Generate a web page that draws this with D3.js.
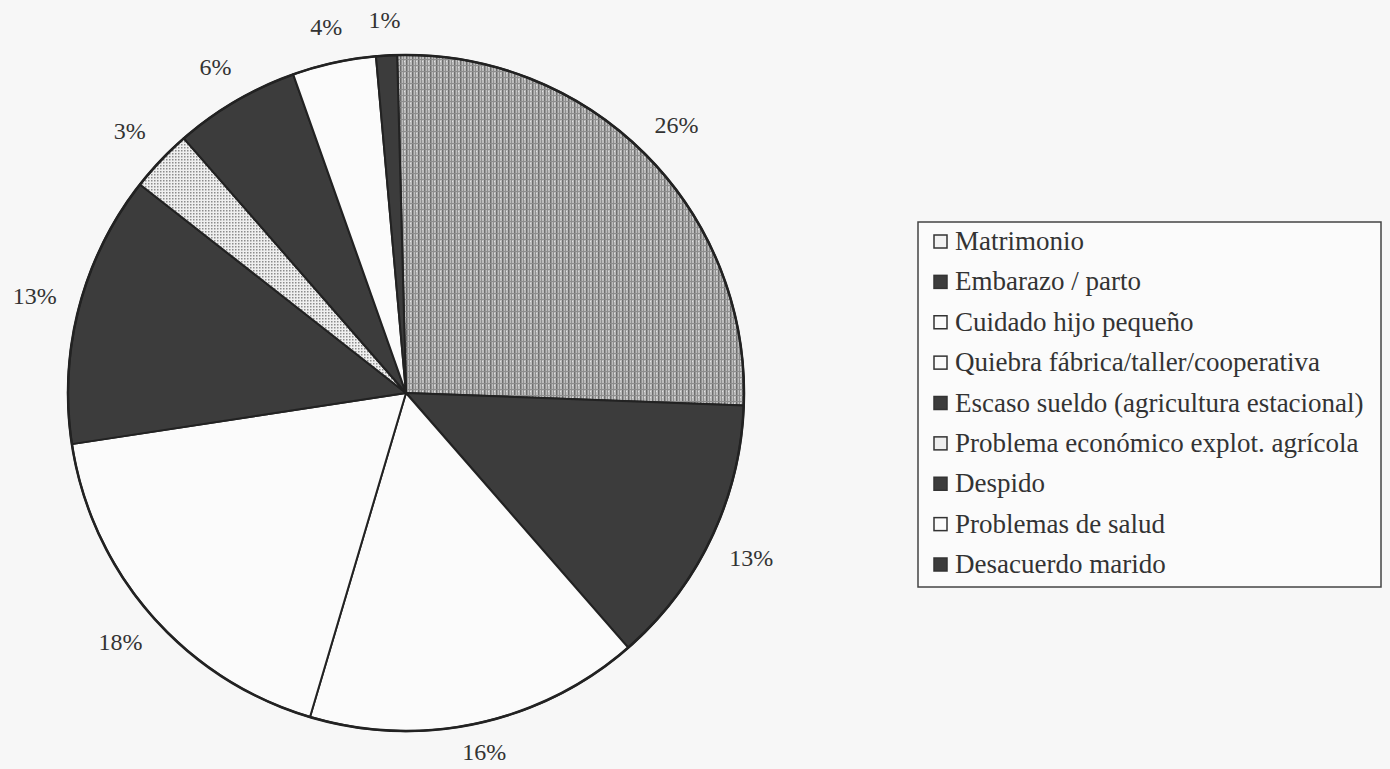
<!DOCTYPE html>
<html>
<head>
<meta charset="utf-8">
<script src="https://cdn.jsdelivr.net/npm/d3@7"></script>
<style>
  html, body { margin: 0; padding: 0; background: #f7f7f7; }
  svg { display: block; }
</style>
</head>
<body>
<div id="chart"></div>
<script>
// ---- data ----
const categories = [
  "Matrimonio",
  "Embarazo / parto",
  "Cuidado hijo pequeño",
  "Quiebra fábrica/taller/cooperativa",
  "Escaso sueldo (agricultura estacional)",
  "Problema económico explot. agrícola",
  "Despido",
  "Problemas de salud",
  "Desacuerdo marido"
];
const values = [26, 13, 16, 18, 13, 3, 6, 4, 1];
const valueLabels = ["26%", "13%", "16%", "18%", "13%", "3%", "6%", "4%", "1%"];
const sliceFills = ["url(#patGrey)", "#3c3c3c", "#fbfbfb", "#fbfbfb", "#3c3c3c", "url(#patDots)", "#3c3c3c", "#fbfbfb", "#3c3c3c"];
const swatchFills = ["#f2f2f2", "#3c3c3c", "#fbfbfb", "#fbfbfb", "#3c3c3c", "#eeeeee", "#3c3c3c", "#fbfbfb", "#3c3c3c"];

// ---- layout ----
const W = 1390, H = 769;
const cx = 406, cy = 393, R = 338;
const offset = -1.5 * Math.PI / 180;

const svg = d3.select("#chart").append("svg")
  .attr("width", W).attr("height", H);

svg.append("rect").attr("width", W).attr("height", H).attr("fill", "#f7f7f7");

const defs = svg.append("defs");
// grey textured fill (Matrimonio)
const pg = defs.append("pattern").attr("id", "patGrey")
  .attr("patternUnits", "userSpaceOnUse").attr("width", 6).attr("height", 6);
pg.append("rect").attr("width", 6).attr("height", 6).attr("fill", "#bcbcbc");
pg.append("rect").attr("x", 0).attr("y", 0).attr("width", 1.5).attr("height", 6).attr("fill", "#6e6e6e");
pg.append("rect").attr("x", 3).attr("y", 0).attr("width", 1).attr("height", 6).attr("fill", "#8e8e8e");
pg.append("rect").attr("x", 0).attr("y", 2).attr("width", 6).attr("height", 1).attr("fill", "#8e8e8e");
pg.append("rect").attr("x", 4).attr("y", 4).attr("width", 1).attr("height", 1).attr("fill", "#e2e2e2");
// dotted fill (Problema económico)
const pd = defs.append("pattern").attr("id", "patDots")
  .attr("patternUnits", "userSpaceOnUse").attr("width", 3).attr("height", 3);
pd.append("rect").attr("width", 3).attr("height", 3).attr("fill", "#efefef");
pd.append("rect").attr("x", 0).attr("y", 0).attr("width", 1.5).attr("height", 1.5).attr("fill", "#8c8c8c");

const pie = d3.pie().sort(null).value(d => d)
  .startAngle(offset).endAngle(2 * Math.PI + offset);
const arcs = pie(values);
const arc = d3.arc().innerRadius(0).outerRadius(R);

// label radius: a little closer at the very top and bottom of the pie
function labelPos(d) {
  const a = (d.startAngle + d.endAngle) / 2;
  const c = Math.cos(a);
  const r = 384 - 18 * Math.pow(Math.max(0, -c), 3) - 10 * Math.pow(Math.max(0, c), 3);
  return [r * Math.sin(a), -r * Math.cos(a)];
}

const g = svg.append("g").attr("transform", `translate(${cx},${cy})`);

g.selectAll("path.slice").data(arcs).enter().append("path")
  .attr("class", "slice")
  .attr("d", arc)
  .attr("fill", (d, i) => sliceFills[i])
  .attr("stroke", "#222")
  .attr("stroke-width", 2)
  .attr("stroke-linejoin", "round");

g.append("circle").attr("r", R).attr("fill", "none")
  .attr("stroke", "#222").attr("stroke-width", 2.5);

g.selectAll("text.lbl").data(arcs).enter().append("text")
  .attr("class", "lbl")
  .attr("transform", d => `translate(${labelPos(d)})`)
  .attr("text-anchor", "middle")
  .attr("dominant-baseline", "central")
  .attr("font-family", "'Liberation Serif', 'Times New Roman', serif")
  .attr("font-size", 24)
  .attr("fill", "#333")
  .text((d, i) => valueLabels[i]);

// ---- legend ----
const lx = 918, ly = 222, lw = 463, lh = 365;
const leg = svg.append("g");
leg.append("rect").attr("x", lx).attr("y", ly).attr("width", lw).attr("height", lh)
  .attr("fill", "#fbfbfb").attr("stroke", "#444").attr("stroke-width", 1.5);

const rowY = d3.scalePoint().domain(categories).range([241, 564]);
const items = leg.selectAll("g.item").data(categories).enter().append("g")
  .attr("class", "item")
  .attr("transform", d => `translate(${lx}, ${rowY(d)})`);
items.append("rect")
  .attr("x", 16).attr("y", -6).attr("width", 13).attr("height", 13)
  .attr("fill", (d, i) => swatchFills[i])
  .attr("stroke", "#333").attr("stroke-width", 1.5);
items.append("text")
  .attr("x", 37).attr("y", 0)
  .attr("dominant-baseline", "central")
  .attr("font-family", "'Liberation Serif', 'Times New Roman', serif")
  .attr("font-size", 27)
  .attr("fill", "#333")
  .text(d => d);
</script>
</body>
</html>
